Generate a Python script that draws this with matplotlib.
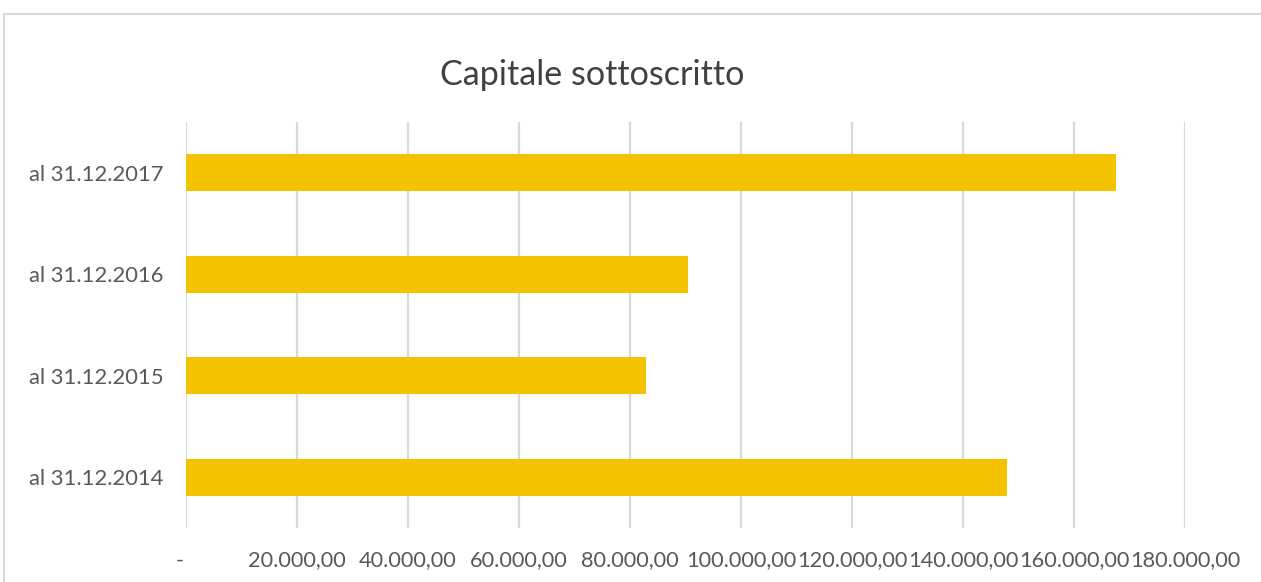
import matplotlib
matplotlib.use("Agg")
import matplotlib.pyplot as plt
from matplotlib.patches import Rectangle
from matplotlib.transforms import ScaledTranslation

# data
categories = ["al 31.12.2014", "al 31.12.2015", "al 31.12.2016", "al 31.12.2017"]
values = [148000, 82830, 90500, 167600]
ticks = [0, 20000, 40000, 60000, 80000, 100000, 120000, 140000, 160000, 180000]
tick_labels = ["-", "20.000,00", "40.000,00", "60.000,00", "80.000,00", "100.000,00",
               "120.000,00", "140.000,00", "160.000,00", "180.000,00"]

plt.rcParams['font.family'] = ['Lato', 'DejaVu Sans']

W, H = 1261, 582
fig = plt.figure(figsize=(W / 100, H / 100), dpi=100)
ax = fig.add_axes([186 / W, 1 - 528 / H, (1185 - 186) / W, (528 - 122) / H])

ax.barh(range(len(categories)), values, height=0.365, color="#f4c300", zorder=3)

ax.set_xlim(0, 180000)
ax.set_ylim(-0.5, len(categories) - 0.5)
ax.set_xticks(ticks)
ax.set_xticklabels(tick_labels, fontsize=15.7, color="#595959")
ax.set_yticks(range(len(categories)))
ax.set_yticklabels(categories, fontsize=15.8, color="#595959")
ax.tick_params(axis="both", length=0)
ax.tick_params(axis="x", pad=16)
ax.tick_params(axis="y", pad=16)
ax.grid(axis="x", color="#d9d9d9", linewidth=1.6, zorder=0)
for s in ax.spines.values():
    s.set_visible(False)

# the "-" for zero sits a bit left of the axis, like excel's accounting format
dash = ax.get_xticklabels()[0]
dash.set_transform(dash.get_transform() + ScaledTranslation(-0.06, 0, fig.dpi_scale_trans))

fig.text(592 / W, 1 - 75 / H, "Capitale sottoscritto", fontsize=24.6, color="#404040",
         ha="center", va="center")

# outer chart frame
fig.patches.append(Rectangle((4 / W, -0.1), 1.2, 1 - 14 / H + 0.1, transform=fig.transFigure,
                             fill=False, edgecolor="#d9d9d9", linewidth=1.5))

fig.savefig("out.png", dpi=100)
